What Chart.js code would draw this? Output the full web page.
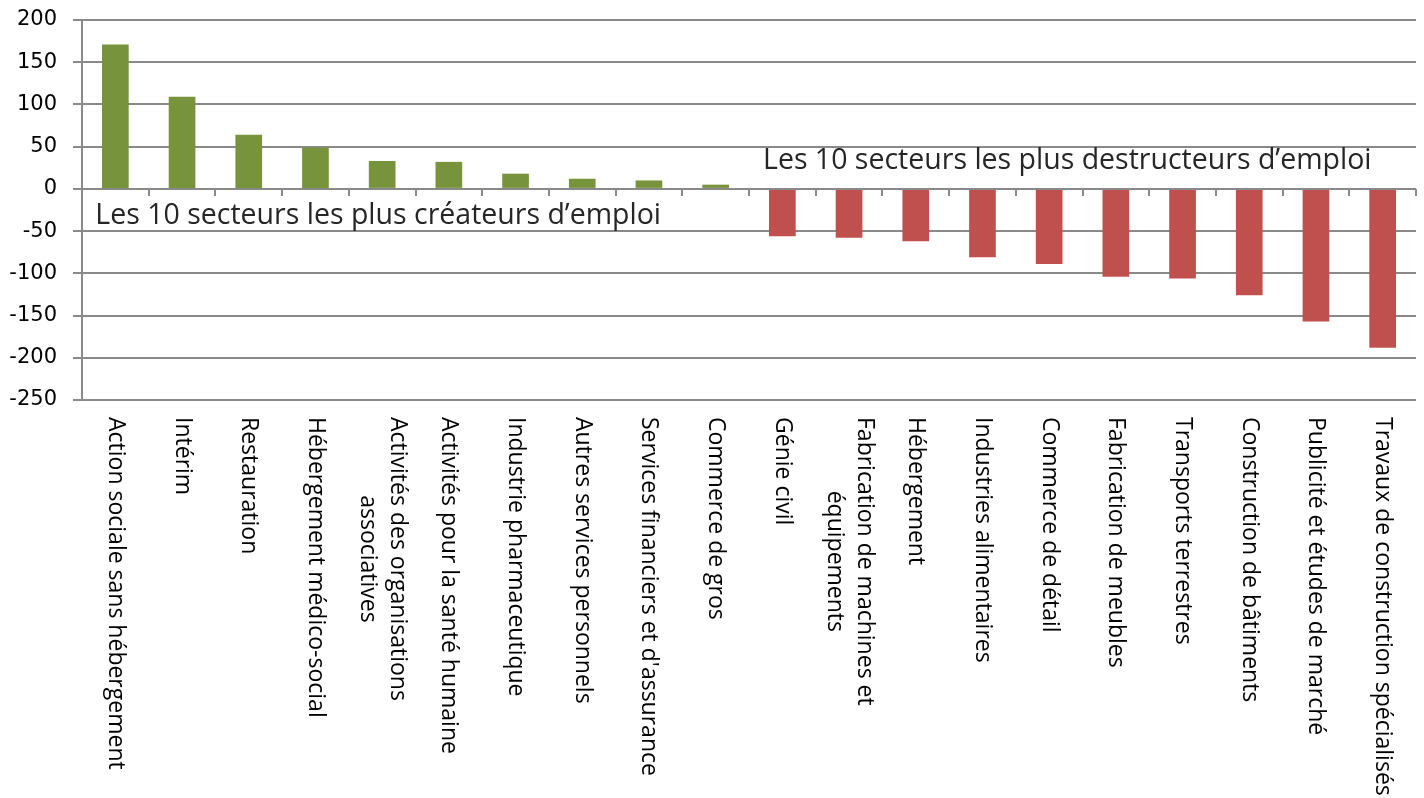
<!DOCTYPE html>
<html>
<head>
<meta charset="utf-8">
<script src="https://cdn.jsdelivr.net/npm/chart.js@4"></script>
<style>
  html, body { margin: 0; padding: 0; background: #fff; }
  #wrap { width: 1424px; height: 798px; }
</style>
</head>
<body>
<div id="wrap"><canvas id="graphique"></canvas></div>
<script>
// Secteurs (les lignes longues sont coupées en deux)
const secteurs = [
    ["Action sociale sans hébergement"],
    ["Intérim"],
    ["Restauration"],
    ["Hébergement médico-social"],
    ["Activités des organisations", "associatives"],
    ["Activités pour la santé humaine"],
    ["Industrie pharmaceutique"],
    ["Autres services personnels"],
    ["Services financiers et d'assurance"],
    ["Commerce de gros"],
    ["Génie civil"],
    ["Fabrication de machines et", "équipements"],
    ["Hébergement"],
    ["Industries alimentaires"],
    ["Commerce de détail"],
    ["Fabrication de meubles"],
    ["Transports terrestres"],
    ["Construction de bâtiments"],
    ["Publicité et études de marché"],
    ["Travaux de construction spécialisés"]
];

// Solde d'emplois par secteur
const valeurs = [171, 109, 64, 49, 33, 32, 18, 12, 10, 5,
                 -56, -58, -62, -81, -89, -104, -106, -126, -157, -188];

// Graduations de l'axe vertical
const graduations = [-250, -200, -150, -100, -50, 0, 50, 100, 150, 200];

const vert = '#77933C';
const rouge = '#C0504D';
const gris = '#898989';

const couleurs = valeurs.map(v => v >= 0 ? vert : rouge);

// Étiquettes verticales + petites graduations sur la ligne du zéro
const etiquettesPlugin = {
    id: 'etiquettes',
    afterDraw(chart) {
        const ctx = chart.ctx;
        const x = chart.scales.x;
        const y = chart.scales.y;
        const y0 = y.getPixelForValue(0);

        // graduations entre catégories
        ctx.save();
        ctx.strokeStyle = gris;
        ctx.lineWidth = 2;
        for (let i = 0; i <= secteurs.length; i++) {
            const px = Math.round(x.getPixelForValue(i - 0.5));
            ctx.beginPath();
            ctx.moveTo(px, y0);
            ctx.lineTo(px, y0 + 7);
            ctx.stroke();
        }
        ctx.restore();

        // textes des secteurs, tournés dans le sens horaire
        ctx.save();
        ctx.font = '23px "Open Sans"';
        ctx.fillStyle = '#000';
        ctx.textBaseline = 'middle';
        const interligne = 30;
        secteurs.forEach((lignes, i) => {
            const px = x.getPixelForValue(i);
            const largeur = Math.max(...lignes.map(l => ctx.measureText(l).width));
            ctx.save();
            ctx.translate(px, chart.chartArea.bottom + 17);
            ctx.rotate(Math.PI / 2);
            lignes.forEach((l, k) => {
                const dy = (k - (lignes.length - 1) / 2) * interligne;
                if (lignes.length === 1) {
                    ctx.textAlign = 'left';
                    ctx.fillText(l, 0, dy);
                } else {
                    ctx.textAlign = 'center';
                    ctx.fillText(l, largeur / 2, dy);
                }
            });
            ctx.restore();
        });
        ctx.restore();

        // les deux annotations
        ctx.save();
        ctx.font = '28.5px "Open Sans"';
        ctx.fillStyle = '#262626';
        ctx.textAlign = 'left';
        ctx.textBaseline = 'alphabetic';
        ctx.fillText('Les 10 secteurs les plus créateurs d’emploi',
            x.getPixelForValue(-0.3), y.getPixelForValue(-41.5));
        ctx.fillText('Les 10 secteurs les plus destructeurs d’emploi',
            x.getPixelForValue(9.71), y.getPixelForValue(23.5));
        ctx.restore();
    }
};

const config = {
    type: 'bar',
    data: {
        labels: secteurs.map(s => s.join(' ')),
        datasets: [{
            data: valeurs,
            backgroundColor: couleurs,
            borderWidth: 0,
            categoryPercentage: 0.8,
            barPercentage: 0.5
        }]
    },
    options: {
        responsive: true,
        maintainAspectRatio: false,
        animation: false,
        layout: {
            padding: { top: 20, right: 8, bottom: 398, left: 0 }
        },
        plugins: {
            legend: { display: false },
            tooltip: { enabled: false }
        },
        scales: {
            x: {
                display: false
            },
            y: {
                min: -250,
                max: 200,
                afterBuildTicks(scale) {
                    scale.ticks = graduations.map(v => ({ value: v }));
                },
                afterFit(scale) {
                    scale.width = 82;
                    scale.paddingTop = 0;
                },
                grid: {
                    color: gris,
                    lineWidth: 2,
                    drawTicks: true,
                    tickLength: 9
                },
                border: { color: gris, width: 2 },
                ticks: {
                    color: '#000',
                    padding: 16,
                    font: { family: '"DejaVu Sans"', size: 21 }
                }
            }
        }
    },
    plugins: [etiquettesPlugin]
};

// attendre les polices avant de dessiner
Promise.all([
    document.fonts.load('23px "Open Sans"'),
    document.fonts.load('21px "DejaVu Sans"')
]).catch(() => {}).then(() => {
    new Chart(document.getElementById('graphique').getContext('2d'), config);
});
</script>
</body>
</html>
